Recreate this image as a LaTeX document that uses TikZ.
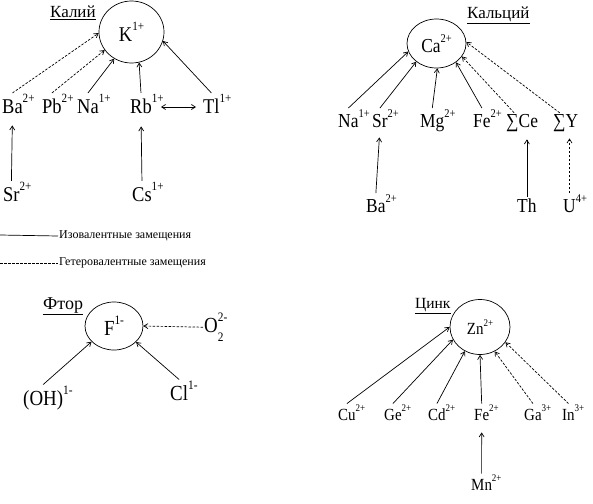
\documentclass[tikz,border=0pt]{standalone}
\usepackage{fontspec}
\setmainfont{Liberation Serif}
\newfontfamily\ionfont[FakeStretch=0.88]{Liberation Serif}
\usetikzlibrary{arrows.meta,shapes.geometric,positioning}
\newcommand{\chgbox}[1]{\raisebox{0.5em}{\scalebox{0.6}{#1}}}
\newcommand{\chg}[1]{\rlap{\chgbox{#1}}}
\newcommand{\idx}[1]{\raisebox{-0.45em}{\scalebox{0.6}{#1}}}
\tikzset{
  iso/.style={->,line width=0.7pt},
  hetero/.style={iso,dash pattern=on 2.5pt off 1.5pt},
  ion/.style={anchor=base west,inner sep=1pt},
  centre/.style={ellipse,draw,line width=0.7pt,inner sep=0pt},
  paneltitle/.style={anchor=base west,inner sep=0pt},
  legendtext/.style={anchor=west,inner sep=1pt,font=\fontsize{12}{14}\selectfont}
}
\begin{document}
\begin{tikzpicture}[x=1pt,y=-1pt,>={Straight Barb[length=4pt,width=5pt]}]
\useasboundingbox (0,0) rectangle (593,503);
% Калий
\begin{scope}[font=\ionfont\fontsize{21}{24}\selectfont]
\node[paneltitle,font=\rmfamily\fontsize{17}{20}\selectfont] (kt) at (50,18) {\underline{Калий}};
\node[centre,minimum width=65pt,minimum height=62pt] (k) at (131.5,32) {K\chgbox{1+}};
\foreach \nm/\el/\ch/\x in {ba/Ba/2+/1,pb/Pb/2+/41,na/Na/1+/76,rb/Rb/1+/129,tl/Tl/1+/202}{\node[ion] (\nm) at (\x,113) {\el\chg{\ch}};}
\node[ion] (sr) at (2,201) {Sr\chg{2+}};
\node[ion] (cs) at (131,201) {Cs\chg{1+}};
\foreach \nm/\a in {ba/182,pb/214}{\draw[hetero] (\nm.north) -- (k.\a);}
\foreach \nm/\a in {na/237,rb/284,tl/344}{\draw[iso] (\nm.north) -- (k.\a);}
\draw[iso,<->] ([xshift=8pt,yshift=6pt]rb.base east) -- ([xshift=-6pt,yshift=6pt]tl.base west);
\draw[iso,shorten >=11pt] (sr.north) -- (ba.south);
\draw[iso,shorten >=12pt] (cs.north) -- (rb.south);
\end{scope}
% Кальций
\begin{scope}[font=\ionfont\fontsize{19.8}{23}\selectfont]
\node[paneltitle,font=\rmfamily\fontsize{17}{20}\selectfont] (cat) at (467,19) {\underline{Кальций}};
\node[centre,minimum width=59pt,minimum height=49pt] (ca) at (436.5,43.5) {Ca\chgbox{2+}};
\foreach \nm/\el/\ch/\x in {nac/Na/1+/337,src/Sr/2+/371,mg/Mg/2+/419,fec/Fe/2+/472}{\node[ion] (\nm) at (\x,127) {\el\chg{\ch}};}
\node[ion] (ce) at (505,127) {∑Ce};
\node[ion] (y) at (552,127) {∑Y};
\node[ion] (bac) at (365,212) {Ba\chg{2+}};
\node[ion] (th) at (516,212) {Th};
\node[ion] (u) at (562,212) {U\chg{4+}};
\foreach \nm/\a in {nac/196,src/222,mg/272,fec/316}{\draw[iso] (\nm.north) -- (ca.\a);}
\draw[hetero] ([xshift=-8pt]ce.north) -- (ca.333);
\draw[hetero] ([xshift=-6pt]y.north) -- (ca.3);
\draw[iso,shorten >=9pt] (bac.north) -- (src.south);
\draw[iso,shorten >=7pt] (th.north) -- (th.north |- ce.south);
\draw[hetero,shorten >=6pt] (u.north) -- (u.north |- y.south);
\end{scope}
% легенда
\coordinate (isol) at (0,235);
\coordinate (hetl) at (0,263);
\node[legendtext] (isot) at (58,236) {Изовалентные замещения};
\node[legendtext] (hett) at (58,263) {Гетеровалентные замещения};
\draw[line width=0.7pt] (isol) -- (isot.west);
\draw[line width=0.7pt,dash pattern=on 2.5pt off 1.5pt] (hetl) -- (hett.west);
% Фтор
\begin{scope}[font=\ionfont\fontsize{21.5}{25}\selectfont]
\node[paneltitle,font=\rmfamily\fontsize{18}{21}\selectfont] (ft) at (43,309) {\underline{Фтор}};
\node[centre,minimum width=58pt,minimum height=48pt] (f) at (114,326) {F\chgbox{1-}};
\node[ion] (o) at (203,332) {O\chg{2-}\idx{2}};
\node[ion] (oh) at (22,405) {(OH)\chg{1-}};
\node[ion] (cl) at (169,400) {Cl\chg{1-}};
\draw[hetero] (o.west) -- (f.0);
\draw[iso] (oh.north) -- (f.215);
\draw[iso] (cl.north) -- (f.324);
\end{scope}
% Цинк
\begin{scope}[font=\ionfont\fontsize{17}{20}\selectfont]
\node[paneltitle,font=\rmfamily\fontsize{15.5}{18}\selectfont] (zt) at (415,308) {\underline{Цинк}};
\node[centre,minimum width=60pt,minimum height=55pt] (zn) at (480,327) {Zn\chgbox{2+}};
\foreach \nm/\el/\ch/\x in {cu/Cu/2+/337,ge/Ge/2+/383,cd/Cd/2+/427,fez/Fe/2+/473,ga/Ga/3+/523,inn/In/3+/561}{\node[ion] (\nm) at (\x,420) {\el\chg{\ch}};}
\node[ion] (mn) at (470,490) {Mn\chg{2+}};
\foreach \nm/\a in {cu/180,ge/205,cd/238,fez/270}{\draw[iso] (\nm.north) -- (zn.\a);}
\foreach \nm/\a in {ga/301,inn/329}{\draw[hetero] (\nm.north) -- (zn.\a);}
\draw[iso,shorten >=11pt] (mn.north) -- (fez.south);
\end{scope}
\end{tikzpicture}
\end{document}
